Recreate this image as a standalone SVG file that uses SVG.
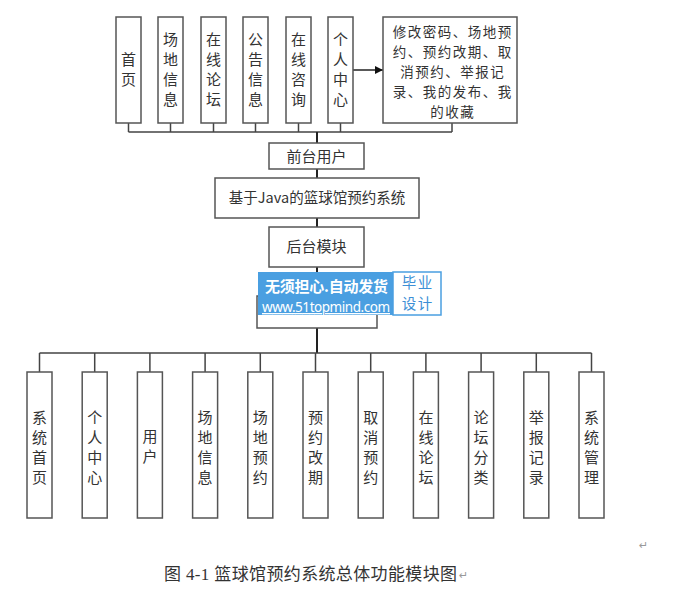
<svg xmlns="http://www.w3.org/2000/svg" width="700" height="589" viewBox="0 0 700 589">
<defs>
<style>
.box{fill:#fff;stroke:#555;stroke-width:1.5}
.ln{fill:none;stroke:#444;stroke-width:1.5}
.lnd{fill:none;stroke:#222;stroke-width:2}
.t{font-family:"Noto Sans CJK SC","Liberation Sans",sans-serif;font-size:15px;fill:#333;text-anchor:middle}
.t7{font-family:"Noto Sans CJK SC","Liberation Sans",sans-serif;font-size:13.5px;letter-spacing:1.5px;fill:#333;text-anchor:middle}
.cap{font-family:"Liberation Serif","Noto Sans CJK SC",serif;font-size:17px;fill:#333}
.ret{font-family:"DejaVu Sans",sans-serif;font-size:11px;fill:#999}
.wm1{font-family:"Noto Sans CJK SC","Liberation Sans",sans-serif;font-size:15px;fill:#fff;font-weight:bold}
.wm2{font-family:"Noto Sans","Liberation Sans",sans-serif;font-size:13.5px;fill:#fff;text-decoration:underline}
.wm3{font-family:"Noto Sans CJK SC",sans-serif;font-size:14.5px;letter-spacing:1.5px;fill:#3d8fd6;text-anchor:middle}
</style>
<marker id="arr" viewBox="0 0 10 10" refX="10" refY="5" markerWidth="8" markerHeight="8" markerUnits="userSpaceOnUse" orient="auto">
<path d="M0,0 L10,5 L0,10 z" fill="#111"/>
</marker>
</defs>
<rect width="700" height="589" fill="#fff"/>

<g id="connectors">
<path class="ln" d="M128.5,123 V132 M170.5,123 V132 M213.5,123 V132 M255.5,123 V132 M298.5,123 V132 M340.5,123 V132 M452,123 V132 M128.5,132 H452"/>
<path class="lnd" d="M317,132 V143 M317,169 V178 M317,218 V227 M317,267 V273 M317,328 V353"/>
<path class="ln" d="M39.5,353 H591.5 M39.5,353 V372 M94.7,353 V372 M149.9,353 V372 M205.1,353 V372 M260.3,353 V372 M315.5,353 V372 M370.7,353 V372 M425.9,353 V372 M481.1,353 V372 M536.3,353 V372 M591.5,353 V372"/>
<line x1="353" y1="70" x2="383" y2="70" stroke="#222" stroke-width="1.5" marker-end="url(#arr)"/>
</g>

<g id="n_shouye"><rect class="box" x="116" y="17" width="25" height="106"/><text class="t"><tspan x="128.5" y="65">首</tspan><tspan x="128.5" y="85">页</tspan></text></g>
<g id="n_changdi"><rect class="box" x="158" y="17" width="25" height="106"/><text class="t"><tspan x="170.5" y="45">场</tspan><tspan x="170.5" y="65">地</tspan><tspan x="170.5" y="85">信</tspan><tspan x="170.5" y="105">息</tspan></text></g>
<g id="n_luntan"><rect class="box" x="201" y="17" width="25" height="106"/><text class="t"><tspan x="213.5" y="45">在</tspan><tspan x="213.5" y="65">线</tspan><tspan x="213.5" y="85">论</tspan><tspan x="213.5" y="105">坛</tspan></text></g>
<g id="n_gonggao"><rect class="box" x="243" y="17" width="25" height="106"/><text class="t"><tspan x="255.5" y="45">公</tspan><tspan x="255.5" y="65">告</tspan><tspan x="255.5" y="85">信</tspan><tspan x="255.5" y="105">息</tspan></text></g>
<g id="n_zixun"><rect class="box" x="286" y="17" width="25" height="106"/><text class="t"><tspan x="298.5" y="45">在</tspan><tspan x="298.5" y="65">线</tspan><tspan x="298.5" y="85">咨</tspan><tspan x="298.5" y="105">询</tspan></text></g>
<g id="n_geren"><rect class="box" x="328" y="17" width="25" height="106"/><text class="t"><tspan x="340.5" y="45">个</tspan><tspan x="340.5" y="65">人</tspan><tspan x="340.5" y="85">中</tspan><tspan x="340.5" y="105">心</tspan></text></g>
<g id="n_gerenfunc"><rect class="box" x="383" y="17" width="134" height="106"/><text class="t7"><tspan x="452.75" y="37">修改密码、场地预</tspan><tspan x="452.75" y="57">约、预约改期、取</tspan><tspan x="452.75" y="77">消预约、举报记</tspan><tspan x="452.75" y="97">录、我的发布、我</tspan><tspan x="452.75" y="117">的收藏</tspan></text></g>

<g id="n_qiantai"><rect class="box" x="269" y="143" width="95" height="26"/><text class="t" x="316.5" y="161.5">前台用户</text></g>
<g id="n_system"><rect class="box" x="215" y="178" width="204" height="40"/><text class="t" x="317" y="203" style="font-size:14.5px">基于Java的篮球馆预约系统</text></g>
<g id="n_houtai"><rect class="box" x="269" y="227" width="95" height="40"/><text class="t" x="316.5" y="252">后台模块</text></g>
<g id="n_admin"><rect class="box" x="257" y="296" width="120" height="32"/></g>

<g id="n_b1"><rect class="box" x="27" y="372" width="25" height="146"/><text class="t"><tspan x="39.5" y="423">系</tspan><tspan x="39.5" y="443">统</tspan><tspan x="39.5" y="463">首</tspan><tspan x="39.5" y="483">页</tspan></text></g>
<g id="n_b2"><rect class="box" x="82.2" y="372" width="25" height="146"/><text class="t"><tspan x="94.7" y="423">个</tspan><tspan x="94.7" y="443">人</tspan><tspan x="94.7" y="463">中</tspan><tspan x="94.7" y="483">心</tspan></text></g>
<g id="n_b3"><rect class="box" x="137.4" y="372" width="25" height="146"/><text class="t"><tspan x="149.9" y="442">用</tspan><tspan x="149.9" y="462">户</tspan></text></g>
<g id="n_b4"><rect class="box" x="192.6" y="372" width="25" height="146"/><text class="t"><tspan x="205.1" y="423">场</tspan><tspan x="205.1" y="443">地</tspan><tspan x="205.1" y="463">信</tspan><tspan x="205.1" y="483">息</tspan></text></g>
<g id="n_b5"><rect class="box" x="247.8" y="372" width="25" height="146"/><text class="t"><tspan x="260.3" y="423">场</tspan><tspan x="260.3" y="443">地</tspan><tspan x="260.3" y="463">预</tspan><tspan x="260.3" y="483">约</tspan></text></g>
<g id="n_b6"><rect class="box" x="303" y="372" width="25" height="146"/><text class="t"><tspan x="315.5" y="423">预</tspan><tspan x="315.5" y="443">约</tspan><tspan x="315.5" y="463">改</tspan><tspan x="315.5" y="483">期</tspan></text></g>
<g id="n_b7"><rect class="box" x="358.2" y="372" width="25" height="146"/><text class="t"><tspan x="370.7" y="423">取</tspan><tspan x="370.7" y="443">消</tspan><tspan x="370.7" y="463">预</tspan><tspan x="370.7" y="483">约</tspan></text></g>
<g id="n_b8"><rect class="box" x="413.4" y="372" width="25" height="146"/><text class="t"><tspan x="425.9" y="423">在</tspan><tspan x="425.9" y="443">线</tspan><tspan x="425.9" y="463">论</tspan><tspan x="425.9" y="483">坛</tspan></text></g>
<g id="n_b9"><rect class="box" x="468.6" y="372" width="25" height="146"/><text class="t"><tspan x="481.1" y="423">论</tspan><tspan x="481.1" y="443">坛</tspan><tspan x="481.1" y="463">分</tspan><tspan x="481.1" y="483">类</tspan></text></g>
<g id="n_b10"><rect class="box" x="523.8" y="372" width="25" height="146"/><text class="t"><tspan x="536.3" y="423">举</tspan><tspan x="536.3" y="443">报</tspan><tspan x="536.3" y="463">记</tspan><tspan x="536.3" y="483">录</tspan></text></g>
<g id="n_b11"><rect class="box" x="579" y="372" width="25" height="146"/><text class="t"><tspan x="591.5" y="423">系</tspan><tspan x="591.5" y="443">统</tspan><tspan x="591.5" y="463">管</tspan><tspan x="591.5" y="483">理</tspan></text></g>

<g id="watermark">
<rect x="258" y="272" width="135" height="43" fill="#4a9fe1"/>
<rect x="393" y="272" width="48" height="43" fill="#fff" stroke="#4a9fe1" stroke-width="1.5"/>
<text class="wm1" x="265" y="292" textLength="123">无须担心.自动发货</text>
<text class="wm2" x="262" y="312" textLength="128">www.51topmind.com</text>
<text class="wm3"><tspan x="417.75" y="288">毕业</tspan><tspan x="417.75" y="309">设计</tspan></text>
</g>

<text class="cap" x="164" y="580" textLength="293">图 4-1 篮球馆预约系统总体功能模块图</text>
<text class="ret" x="459" y="579">↵</text>
<text class="ret" x="639" y="549">↵</text>
</svg>
